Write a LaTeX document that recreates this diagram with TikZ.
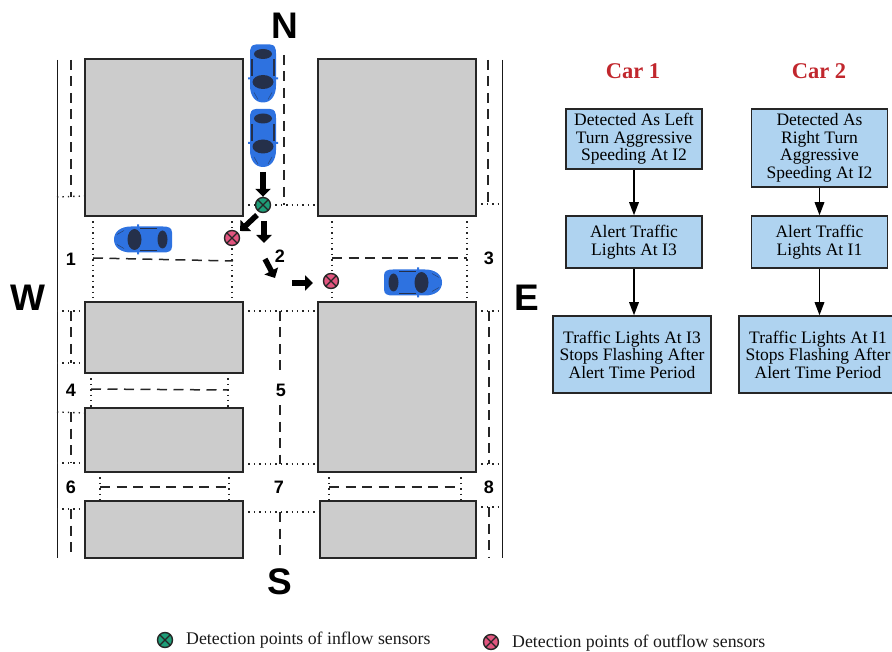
\documentclass[tikz,border=0pt]{standalone}
\usepackage{fontspec}
\setmainfont{Liberation Serif}
\newfontfamily\labelfont{Liberation Sans}
\usetikzlibrary{arrows.meta}
\definecolor{blockgray}{HTML}{CCCCCC}
\definecolor{boxblue}{HTML}{AFD3F0}
\definecolor{carblue}{HTML}{2E72E0}
\definecolor{cardark}{HTML}{25304A}
\definecolor{inflow}{HTML}{1E9E78}
\definecolor{outflow}{HTML}{E2557F}
\definecolor{titlered}{HTML}{C1272D}
\tikzset{
  x=1pt,y=-1pt,
  block/.style={draw=black!85,fill=blockgray,line width=1.5pt},
  edgeline/.style={draw=black!90,line width=1.9pt},
  lanedash/.style={draw=black!85,line width=1.5pt,dash pattern=on 10pt off 6.5pt},
  stopdots/.style={draw=black!85,line width=1.4pt,dash pattern=on 1.4pt off 4pt},
  flowbox/.style={draw=black!85,fill=boxblue,line width=1.5pt,inner sep=0pt,align=center,
    font=\fontsize{17.5}{17.5}\selectfont},
  flowarrow/.style={draw=black,line width=1.6pt,-{Triangle[length=13pt,width=9.5pt]}},
  moveArrow/.style={draw=black,line width=5.5pt,-{Triangle[length=8pt,width=15pt]}},
  compass/.style={font=\labelfont\bfseries\fontsize{37}{37}\selectfont,inner sep=0pt},
  zonenum/.style={font=\labelfont\bfseries\fontsize{18}{18}\selectfont,inner sep=0pt},
  cartitle/.style={font=\bfseries\fontsize{22.5}{22.5}\selectfont,text=titlered,inner sep=0pt},
  legendtext/.style={font=\fontsize{17.8}{17.8}\selectfont,inner sep=0pt,anchor=west,text=black!90},
  sensor/.style={circle,draw=black!85,line width=1.4pt,minimum size=15pt,inner sep=0pt,
    path picture={\draw[black!85,line width=1.1pt]
      (path picture bounding box.north west)--(path picture bounding box.south east)
      (path picture bounding box.north east)--(path picture bounding box.south west);}},
  insensor/.style={sensor,fill=inflow},
  outsensor/.style={sensor,fill=outflow},
  carpic/.pic={
    \fill[carblue] (-29,-7) .. controls (-29,-12) and (-25,-13) .. (-20,-13)
      -- (12,-13) .. controls (22,-13) and (29,-8) .. (29,0)
      .. controls (29,8) and (22,13) .. (12,13)
      -- (-20,13) .. controls (-25,13) and (-29,12) .. (-29,7) -- cycle;
    \fill[carblue] (4,-15) rectangle (6,-12) (4,12) rectangle (6,15);
    \fill[cardark] (-19.5,0) ellipse [x radius=5,y radius=9];
    \fill[cardark] (8.5,0) ellipse [x radius=7,y radius=10.5];
    \draw[cardark,line width=1.2pt] (-14,-11) -- (3,-11) (-14,11) -- (3,11);
    \draw[cardark!70!carblue,line width=.5pt] (19,-9) -- (26,-5) (19,9) -- (26,5);
  }
}
\begin{document}
\begin{tikzpicture}
\useasboundingbox (0,0) rectangle (892,652);
\clip (0,0) rectangle (892,652);

% city blocks
\draw[block] (85,59) rectangle (243,216);
\draw[block] (318,59) rectangle (476,216);
\draw[block] (85,302) rectangle (243,373);
\draw[block] (85,408) rectangle (243,472);
\draw[block] (85,501) rectangle (243,558);
\draw[block] (318,302) rectangle (476,472);
\draw[block] (320,501) rectangle (476,558);

% road edges
\draw[edgeline] (57.5,60) -- (57.5,558);
\draw[edgeline] (502.5,60) -- (502.5,558);

% lane dashes
\draw[lanedash] (71,60) -- (71,197);
\draw[lanedash] (71,311) -- (71,363);
\draw[lanedash] (71,412) -- (71,463);
\draw[lanedash] (71,509) -- (71,558);
\draw[lanedash] (488,60) -- (488,203);
\draw[lanedash] (489,311) -- (489,464);
\draw[lanedash] (489,507) -- (489,558);
\draw[lanedash] (284,55) -- (284,205);
\draw[lanedash] (280,311) -- (280,375) (280,405) -- (280,464);
\draw[lanedash] (280,512) -- (280,558);
\draw[lanedash] (93,258) -- (233,261);
\draw[lanedash] (332,258) -- (467,258);
\draw[lanedash] (91,389) -- (228,390);
\draw[lanedash] (100,487) -- (228,487);
\draw[lanedash] (329,487) -- (461,487);

% stop lines
\draw[stopdots] (57,197) -- (85,196);
\draw[stopdots] (57,311) -- (85,311);
\draw[stopdots] (57,363) -- (85,363);
\draw[stopdots] (57,412) -- (85,413);
\draw[stopdots] (57,463) -- (85,463);
\draw[stopdots] (57,509) -- (85,509);
\draw[stopdots] (476,204) -- (502,204);
\draw[stopdots] (476,311) -- (502,311);
\draw[stopdots] (476,464) -- (502,464);
\draw[stopdots] (476,507) -- (502,507);
\draw[stopdots] (243,205) -- (318,205);
\draw[stopdots] (243,311) -- (318,311);
\draw[stopdots] (243,464) -- (318,464);
\draw[stopdots] (243,512) -- (320,512);
\draw[stopdots] (93,216) -- (93,302);
\draw[stopdots] (232,216) -- (232,302);
\draw[stopdots] (332,216) -- (332,302);
\draw[stopdots] (467,216) -- (467,302);
\draw[stopdots] (91,373) -- (91,408);
\draw[stopdots] (228,373) -- (228,408);
\draw[stopdots] (100,472) -- (100,501);
\draw[stopdots] (229,472) -- (229,501);
\draw[stopdots] (329,472) -- (329,501);
\draw[stopdots] (461,472) -- (461,501);

% cars
\pic[rotate=-90] at (263,73.5) {carpic};
\pic[rotate=-90] at (263,138) {carpic};
\pic[rotate=180] at (143,239.5) {carpic};
\pic at (413,282.5) {carpic};

% sensors
\node[insensor] (s1) at (263,205) {};
\node[outsensor] (s2) at (232,238) {};
\node[outsensor] (s3) at (331,281) {};

% movement arrows
\coordinate (a1) at (263,172);
\coordinate (a2) at (257,215);
\coordinate (a2e) at (240,231);
\coordinate (a3) at (264,221);
\coordinate (a3e) at (264,243);
\coordinate (a4) at (265,259);
\coordinate (a4e) at (275,278);
\coordinate (a5) at (292,283);
\coordinate (a5e) at (313,283);
\draw[moveArrow] (a1) -- (s1.north);
\draw[moveArrow] (a2) -- (a2e);
\draw[moveArrow] (a3) -- (a3e);
\draw[moveArrow] (a4) -- (a4e);
\draw[moveArrow] (a5) -- (a5e);

% compass
\node[compass] (n) at (285,26) {N};
\node[compass] (w) at (28,298) {W};
\node[compass] (e) at (527,298) {E};
\node[compass] (so) at (280,582) {S};

% zones
\node[zonenum] (z1) at (71,259) {1};
\node[zonenum] (z2) at (280,256) {2};
\node[zonenum] (z3) at (489,258) {3};
\node[zonenum] (z4) at (71,390) {4};
\node[zonenum] (z5) at (281,390) {5};
\node[zonenum] (z6) at (71,487) {6};
\node[zonenum] (z7) at (279,487) {7};
\node[zonenum] (z8) at (489,487) {8};

% flow charts
\node[cartitle] (c1) at (633,71) {Car 1};
\node[cartitle] (c2) at (819,71) {Car 2};
\node[flowbox,minimum width=136pt,minimum height=60pt] (b11) at (634,139) {Detected As Left\\Turn Aggressive\\Speeding At I2};
\node[flowbox,minimum width=136pt,minimum height=52pt] (b12) at (634,242) {Alert Traffic\\Lights At I3};
\node[flowbox,minimum width=158pt,minimum height=77pt] (b13) at (632,354.5) {Traffic Lights At I3\\Stops Flashing After\\Alert Time Period};
\node[flowbox,minimum width=136pt,minimum height=78pt] (b21) at (819.5,148) {Detected As\\Right Turn\\Aggressive\\Speeding At I2};
\node[flowbox,minimum width=136pt,minimum height=52pt] (b22) at (819.5,242) {Alert Traffic\\Lights At I1};
\node[flowbox,minimum width=158pt,minimum height=77pt] (b23) at (818,354.5) {Traffic Lights At I1\\Stops Flashing After\\Alert Time Period};
\draw[flowarrow] (b11) -- (b12);
\draw[flowarrow] (b12) -- (b12 |- b13.north);
\draw[flowarrow] (b21) -- (b22);
\draw[flowarrow] (b22) -- (b22 |- b23.north);

% legend
\node[insensor] (l1) at (165,640) {};
\node[legendtext] (lt1) at (186,640) {Detection points of inflow sensors};
\node[outsensor] (l2) at (491,642) {};
\node[legendtext] (lt2) at (512,643) {Detection points of outflow sensors};
\end{tikzpicture}
\end{document}
